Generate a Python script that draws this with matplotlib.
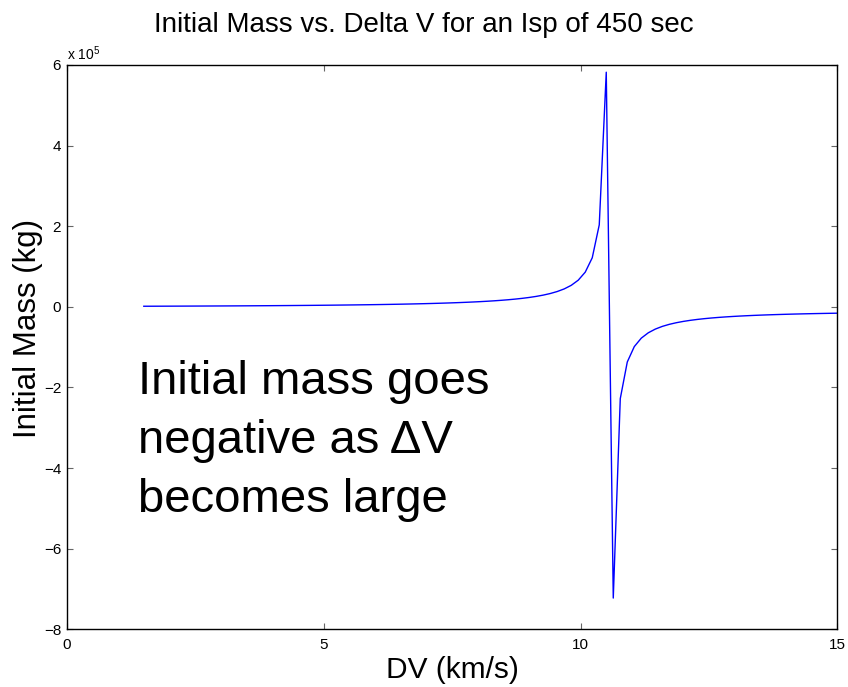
import numpy as np
import matplotlib
matplotlib.use("Agg")
import matplotlib.pyplot as plt
from matplotlib.ticker import FuncFormatter

plt.rcParams['font.family'] = ['Liberation Sans', 'DejaVu Sans']
plt.rcParams['mathtext.fontset'] = 'custom'
plt.rcParams['mathtext.rm'] = 'Liberation Sans'
plt.rcParams['mathtext.it'] = 'Liberation Sans'

# Data
dv = np.linspace(1.5, 15, 100)  # km/s
initial_mass = [
    1464, 1517, 1572, 1629, 1689, 1752, 1816, 1884, 1955, 2029,
    2106, 2186, 2271, 2359, 2451, 2547, 2648, 2754, 2866, 2983,
    3105, 3234, 3370, 3513, 3664, 3823, 3991, 4168, 4356, 4555,
    4766, 4990, 5229, 5483, 5755, 6045, 6355, 6688, 7046, 7432,
    7849, 8300, 8789, 9323, 9906, 10545, 11249, 12028, 12893, 13859,
    14946, 16175, 17577, 19189, 21062, 23264, 25889, 29068, 32996, 37973,
    44476, 53333, 66093, 86057, 121699, 203365, 582088, -722517, -227702, -136839,
    -98665, -77659, -64371, -55212, -48518, -43415, -39397, -36153, -33480, -31240,
    -29337, -27702, -26281, -25036, -23936, -22959, -22084, -21297, -20586, -19941,
    -19353, -18815, -18321, -17866, -17446, -17057, -16697, -16361, -16049, -15757,
]
x_ticks = [0, 5, 10, 15]
y_ticks = [-8e5, -6e5, -4e5, -2e5, 0, 2e5, 4e5, 6e5]

fig = plt.figure(figsize=(8.48, 6.87), dpi=100)
ax = fig.add_axes([0.0787, 0.0840, 0.9089, 0.8214])
ax.plot(dv, initial_mass, color='#0000ff', lw=1.0)

ax.set_xlim(0, 15)
ax.set_ylim(-8e5, 6e5)
ax.set_xticks(x_ticks)
ax.set_yticks(y_ticks)
ax.yaxis.set_major_formatter(FuncFormatter(lambda v, p: f"{int(round(v / 1e5))}".replace('-', '\u2212')))
ax.tick_params(direction='in', length=4, width=0.8, top=True, right=True,
               labelsize=11, color='#666666')
ax.tick_params(axis='x', pad=6)
ax.tick_params(axis='y', pad=4)
for s in ax.spines.values():
    s.set_linewidth(1.0)

ax.text(0.0, 1.004, "x 10$^{5}$", transform=ax.transAxes, fontsize=10, ha='left', va='bottom')

fig.suptitle("Initial Mass vs. Delta V for an Isp of 450 sec", fontsize=20,
             x=0.5, y=1 - 32 / 687, va='baseline')
ax.set_xlabel("DV (km/s)", fontsize=21.5, labelpad=3)
ax.set_ylabel("Initial Mass (kg)", fontsize=22.5)
ax.yaxis.set_label_coords(-0.031, 0.534)

ax.text(1.39, -5.08e5, "Initial mass goes\nnegative as \u0394V\nbecomes large",
        fontsize=34, ha='left', va='baseline', linespacing=1.43)

fig.savefig("out.png", dpi=100)
